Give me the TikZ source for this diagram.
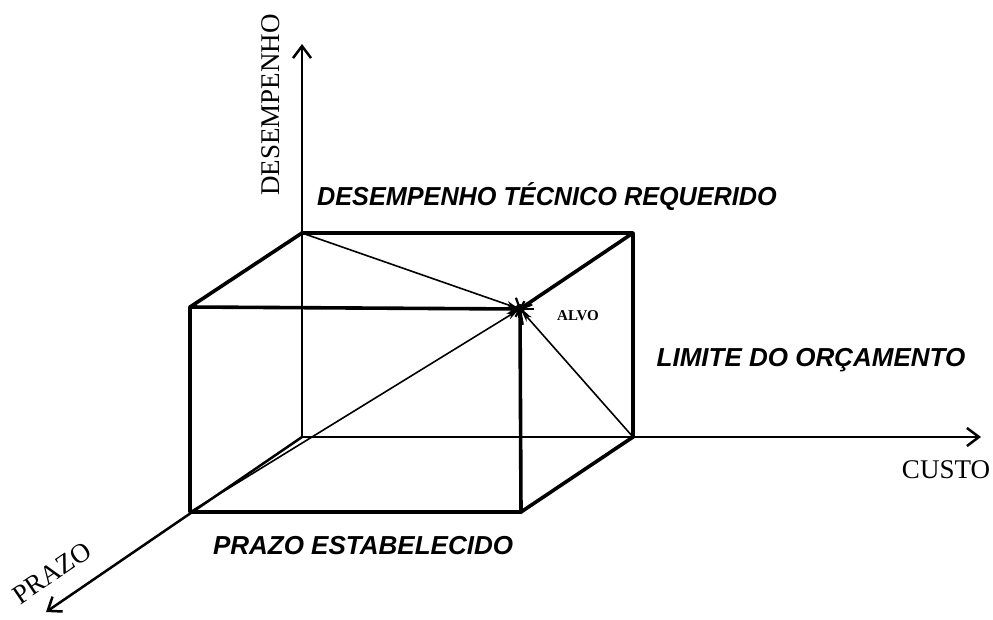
\documentclass[tikz,border=0pt]{standalone}
\usepackage{fontspec}
\setmainfont{Liberation Serif}
\newfontfamily\lsans{Liberation Sans}
\usetikzlibrary{arrows.meta,calc}
\tikzset{
  edge/.style={line width=3.6pt, line cap=round, line join=round},
  axis/.style={line width=2.5pt, -{Straight Barb[length=12pt,width=18pt,line width=2.5pt]}},
  diag/.style={line width=1.6pt, -{Stealth[length=12pt,width=7pt]}, shorten >=2pt},
  lab/.style={font=\lsans\bfseries\itshape\fontsize{26}{26}\selectfont, inner sep=0pt},
  axlab/.style={font=\fontsize{27}{27}\selectfont, inner sep=0pt},
}
\begin{document}
\begin{tikzpicture}[x=1pt,y=-1pt]
\useasboundingbox (0,0) rectangle (993,619);
% back face
\coordinate (O) at (302,437);
\coordinate (BTL) at (302,233);
\coordinate (BTR) at (633,233);
\coordinate (BBR) at (633,437);
% front face
\coordinate (FTL) at (190,307);
\coordinate (A) at (520,309);
\coordinate (FBR) at (521,512);
\coordinate (FBL) at (190,512);
% axis ends
\coordinate (Yend) at (302,44);
\coordinate (Xend) at (981,437);
\coordinate (Zend) at (46,612);
% axes
\draw[axis] (O) -- (Yend);
\draw[axis] (O) -- (Xend);
\draw[axis] (O) -- (Zend);
% cube edges
\draw[edge] (BTL) -- (BTR) -- (BBR);
\draw[edge] (FTL) -- (A) -- (FBR) -- (FBL) -- cycle;
\draw[edge] (BTL) -- (FTL);
\draw[edge] (BTR) -- (A);
\draw[edge] (BBR) -- (FBR);
% diagonals to target
\draw[diag] (BTL) -- (A);
\draw[diag] (FBL) -- (A);
\draw[diag] (BBR) -- (A);
% star at target
\foreach \ang/\len in {0/14,40/10,80/16,120/9,160/12,200/10,250/12,300/9,340/13}
  \draw[line width=2.2pt] (A) -- ++(\ang:\len);
\fill (A) circle (5pt);
% labels
\node[font=\bfseries\fontsize{15}{15}\selectfont, inner sep=0pt] (alvo) at (578,316) {ALVO};
\node[lab, xscale=0.97] (dtr) at (547,197) {DESEMPENHO TÉCNICO REQUERIDO};
\node[lab] (lo) at (811,360) {LIMITE DO ORÇAMENTO};
\node[lab] (pe) at (363,546) {PRAZO ESTABELECIDO};
\node[axlab] (custo) at (946,470) {CUSTO};
\node[axlab, rotate=90] (desemp) at (271,105) {DESEMPENHO};
\node[axlab, rotate=34] (prazo) at (52,573) {PRAZO};
\end{tikzpicture}
\end{document}
